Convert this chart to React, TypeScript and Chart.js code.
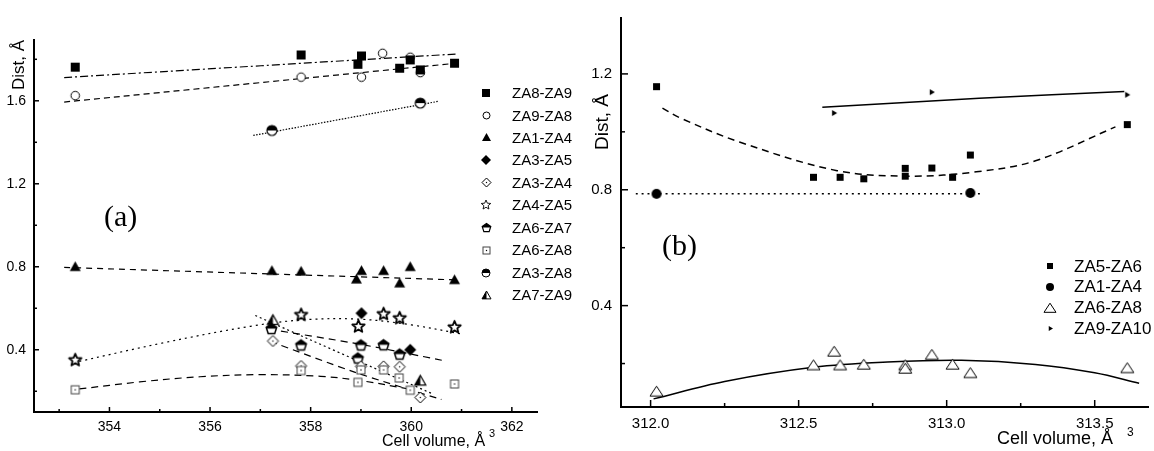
import React, { useEffect, useRef } from 'react';
import { Chart, registerables } from 'chart.js';
Chart.register(...registerables);

// ---------------- Panel (a) data ----------------
const aXTicks = [354, 356, 358, 360, 362];
const aXTickLabels = ['354', '356', '358', '360', '362'];
const aXMinor = [353, 355, 357, 359, 361];
const aYTicks = [0.4, 0.8, 1.2, 1.6];
const aYTickLabels = ['0.4', '0.8', '1.2', '1.6'];
const aYMinor = [0.2, 0.6, 1.0, 1.4, 1.8];

const aNames = ['ZA8-ZA9', 'ZA9-ZA8', 'ZA1-ZA4', 'ZA3-ZA5', 'ZA3-ZA4', 'ZA4-ZA5', 'ZA6-ZA7', 'ZA6-ZA8', 'ZA3-ZA8', 'ZA7-ZA9'];

const aZA8ZA9 = [[353.32, 1.762], [357.81, 1.821], [359.01, 1.816], [358.94, 1.776], [359.77, 1.757], [359.98, 1.797], [360.18, 1.749], [360.86, 1.781]];
const aZA9ZA8 = [[353.32, 1.625], [357.81, 1.714], [359.01, 1.714], [359.43, 1.829], [359.98, 1.81], [360.18, 1.736]];
const aZA1ZA4 = [[353.32, 0.8], [357.23, 0.781], [357.81, 0.778], [359.01, 0.781], [358.91, 0.74], [359.45, 0.781], [359.98, 0.8], [359.77, 0.721], [360.86, 0.737]];
const aZA3ZA5 = [[359.01, 0.576], [359.98, 0.4]];
const aZA3ZA4 = [[357.25, 0.442], [357.81, 0.322], [359.0, 0.32], [359.45, 0.32], [359.77, 0.318], [360.18, 0.17]];
const aZA4ZA5 = [[353.32, 0.35], [357.81, 0.568], [358.95, 0.512], [359.45, 0.572], [359.77, 0.552], [360.86, 0.508]];
const aZA6ZA7 = [[357.22, 0.502], [357.81, 0.423], [359.0, 0.423], [359.45, 0.424], [359.77, 0.379], [358.94, 0.36]];
const aZA6ZA8 = [[353.32, 0.207], [357.81, 0.3], [359.0, 0.303], [358.94, 0.243], [359.45, 0.303], [359.76, 0.264], [359.98, 0.205], [360.86, 0.235]];
const aZA3ZA8 = [[357.23, 1.457], [360.18, 1.589]];
const aZA7ZA9 = [[357.25, 0.542], [360.18, 0.25]];

const aFitZA8ZA9 = [[353.1, 1.712], [360.93, 1.826]];
const aFitZA9ZA8 = [[353.1, 1.594], [360.89, 1.781]];
const aFitZA3ZA8 = [[356.86, 1.433], [360.53, 1.597]];
const aFitZA1ZA4 = [[353.1, 0.797], [360.86, 0.737]];
const aFitZA4ZA5 = [[353.4, 0.344], [355.1, 0.435], [356.8, 0.513], [357.9, 0.545], [359.0, 0.547], [360.0, 0.52], [361.02, 0.475]];
const aFitZA6ZA8 = [[353.4, 0.211], [354.6, 0.245], [355.8, 0.27], [357.0, 0.28], [358.2, 0.272], [359.0, 0.251], [359.97, 0.21]];
const aFitZA6ZA7 = [[357.18, 0.499], [358.97, 0.427], [360.66, 0.347]];
const aFitZA3ZA4 = [[357.2, 0.44], [358.9, 0.29], [360.6, 0.16]];
const aFitZA7ZA9 = [[356.9, 0.565], [360.4, 0.19]];

// ---------------- Panel (b) data ----------------
const bXTicks = [312.0, 312.5, 313.0, 313.5];
const bXTickLabels = ['312.0', '312.5', '313.0', '313.5'];
const bXMinor = [312.25, 312.75, 313.25];
const bYTicks = [0.4, 0.8, 1.2];
const bYTickLabels = ['0.4', '0.8', '1.2'];
const bYMinor = [0.2, 0.6, 1.0];

const bNames = ['ZA5-ZA6', 'ZA1-ZA4', 'ZA6-ZA8', 'ZA9-ZA10'];

const bZA5ZA6 = [[312.02, 1.156], [312.55, 0.843], [312.64, 0.843], [312.72, 0.838], [312.86, 0.874], [312.86, 0.847], [312.95, 0.875], [313.02, 0.843], [313.08, 0.92], [313.61, 1.025]];
const bZA1ZA4 = [[312.02, 0.786], [313.08, 0.789]];
const bZA6ZA8 = [[312.02, 0.104], [312.55, 0.195], [312.62, 0.242], [312.64, 0.195], [312.72, 0.197], [312.86, 0.195], [312.86, 0.183], [312.95, 0.231], [313.02, 0.197], [313.08, 0.168], [313.61, 0.185]];
const bZA9ZA10 = [[312.62, 1.065], [312.95, 1.137], [313.61, 1.128]];

const bFitZA5ZA6 = [[312.04, 1.082], [312.1, 1.048], [312.3, 0.965], [312.63, 0.866], [312.88, 0.847], [313.1, 0.862], [313.3, 0.9], [313.57, 1.017]];
const bFitZA1ZA4 = [[311.95, 0.786], [313.12, 0.786]];
const bFitZA9ZA10 = [[312.58, 1.085], [313.11, 1.116], [313.6, 1.139]];
const bFitZA6ZA8 = [[312.01, 0.078], [312.25, 0.138], [312.55, 0.187], [312.8, 0.205], [313.05, 0.211], [313.3, 0.197], [313.5, 0.168], [313.65, 0.132]];

// ---------------- markers ----------------
type MK = 'sqF' | 'circO' | 'triF' | 'diaF' | 'diaO' | 'starO' | 'pentH' | 'sqO' | 'circH' | 'triH' | 'circF' | 'triO' | 'triR';

function makeMarker(kind: MK, s: number, lw = 1): HTMLCanvasElement {
  const size = Math.ceil(s + 6);
  const c = document.createElement('canvas');
  c.width = size;
  c.height = size;
  const ctx = c.getContext('2d') as CanvasRenderingContext2D;
  ctx.translate(size / 2, size / 2);
  const r = s / 2;
  ctx.lineWidth = lw;
  ctx.strokeStyle = '#000';
  ctx.fillStyle = '#000';
  const poly = (pts: number[][]) => {
    ctx.beginPath();
    pts.forEach((p, i) => (i ? ctx.lineTo(p[0], p[1]) : ctx.moveTo(p[0], p[1])));
    ctx.closePath();
  };
  const dot = () => {
    ctx.fillStyle = '#000';
    ctx.fillRect(-0.6, -0.6, 1.2, 1.2);
  };
  switch (kind) {
    case 'sqF':
      ctx.fillRect(-r, -r, s, s);
      break;
    case 'circO':
      ctx.beginPath(); ctx.arc(0, 0, r, 0, Math.PI * 2);
      ctx.fillStyle = '#fff'; ctx.fill(); ctx.stroke();
      break;
    case 'circF':
      ctx.beginPath(); ctx.arc(0, 0, r, 0, Math.PI * 2); ctx.fill();
      break;
    case 'triF':
      poly([[0, -r], [r, r * 0.75], [-r, r * 0.75]]); ctx.fill();
      break;
    case 'triO':
      poly([[0, -r * 0.8], [r, r * 0.72], [-r, r * 0.72]]);
      ctx.fillStyle = '#fff'; ctx.fill(); ctx.stroke();
      break;
    case 'triR':
      poly([[r, 0], [-r * 0.7, -r], [-r * 0.7, r]]); ctx.fill();
      break;
    case 'diaF':
      poly([[0, -r], [r, 0], [0, r], [-r, 0]]); ctx.fill();
      break;
    case 'diaO':
      poly([[0, -r], [r, 0], [0, r], [-r, 0]]);
      ctx.fillStyle = '#fff'; ctx.fill(); ctx.stroke(); dot();
      break;
    case 'sqO':
      ctx.strokeStyle = '#444';
      ctx.fillStyle = '#fff';
      ctx.fillRect(-r, -r, s, s);
      ctx.strokeRect(-r, -r, s, s); dot();
      break;
    case 'starO': {
      const pts: number[][] = [];
      for (let i = 0; i < 10; i++) {
        const rr = i % 2 === 0 ? r : r * 0.45;
        const a = -Math.PI / 2 + (i * Math.PI) / 5;
        pts.push([rr * Math.cos(a), rr * Math.sin(a)]);
      }
      poly(pts);
      ctx.fillStyle = '#fff'; ctx.fill(); ctx.lineJoin = 'round'; ctx.stroke();
      break;
    }
    case 'pentH': {
      const pts: number[][] = [];
      for (let i = 0; i < 5; i++) {
        const a = -Math.PI / 2 + (i * 2 * Math.PI) / 5;
        pts.push([r * Math.cos(a), r * Math.sin(a) + r * 0.1]);
      }
      poly(pts); ctx.fillStyle = '#fff'; ctx.fill();
      ctx.save(); ctx.beginPath(); ctx.rect(-r - 2, -r - 2, 2 * r + 4, r + 2); ctx.clip();
      poly(pts); ctx.fillStyle = '#000'; ctx.fill(); ctx.restore();
      poly(pts); ctx.stroke();
      break;
    }
    case 'circH':
      ctx.beginPath(); ctx.arc(0, 0, r, 0, Math.PI * 2); ctx.fillStyle = '#fff'; ctx.fill();
      ctx.beginPath(); ctx.arc(0, 0, r, Math.PI, Math.PI * 2); ctx.closePath(); ctx.fillStyle = '#000'; ctx.fill();
      ctx.beginPath(); ctx.arc(0, 0, r, 0, Math.PI * 2); ctx.stroke();
      break;
    case 'triH': {
      const pts = [[0, -r], [r, r * 0.75], [-r, r * 0.75]];
      poly(pts); ctx.fillStyle = '#fff'; ctx.fill();
      ctx.save(); ctx.beginPath(); ctx.rect(-r - 2, -r - 2, r + 2, 2 * r + 4); ctx.clip();
      poly(pts); ctx.fillStyle = '#000'; ctx.fill(); ctx.restore();
      poly(pts); ctx.stroke();
      break;
    }
  }
  return c;
}

const toPts = (arr: number[][]) => arr.map(([x, y]) => ({ x, y }));

const FONT = '"Liberation Sans", Arial, sans-serif';
const SERIF = '"Liberation Serif", "Times New Roman", serif';

function scatterDs(data: number[][], marker: HTMLCanvasElement) {
  return { data: toPts(data), pointStyle: marker, pointRadius: 5, showLine: false, order: 0 };
}
function lineDs(data: number[][], dash: number[], width = 1.2) {
  return {
    data: toPts(data), showLine: true, pointRadius: 0, borderColor: '#000', borderWidth: width,
    borderDash: dash, tension: data.length > 3 ? 0.35 : 0.3, fill: false, order: 1,
  };
}

type PanelSpec = {
  xMajor: number[]; xMinor: number[]; yMajor: number[]; yMinor: number[];
  major: number; minor: number;
  texts: (ctx: CanvasRenderingContext2D) => void;
  legend: { markers: HTMLCanvasElement[]; names: string[]; mx: number; tx: number; y0: number; step: number; font: number };
};

function decoPlugin(spec: PanelSpec) {
  return {
    id: 'deco',
    afterDraw(chart: any) {
      const { ctx, chartArea } = chart;
      const xs = chart.scales.x;
      const ys = chart.scales.y;
      ctx.save();
      ctx.strokeStyle = '#000';
      ctx.lineWidth = 1.5;
      const seg = (x1: number, y1: number, x2: number, y2: number) => {
        ctx.beginPath(); ctx.moveTo(x1, y1); ctx.lineTo(x2, y2); ctx.stroke();
      };
      spec.xMajor.forEach((v) => { const p = xs.getPixelForValue(v); seg(p, chartArea.bottom, p, chartArea.bottom - spec.major); });
      spec.xMinor.forEach((v) => { const p = xs.getPixelForValue(v); seg(p, chartArea.bottom, p, chartArea.bottom - spec.minor); });
      spec.yMajor.forEach((v) => { const p = ys.getPixelForValue(v); seg(chartArea.left, p, chartArea.left + spec.major, p); });
      spec.yMinor.forEach((v) => { const p = ys.getPixelForValue(v); seg(chartArea.left, p, chartArea.left + spec.minor, p); });
      ctx.fillStyle = '#000';
      spec.texts(ctx);
      const L = spec.legend;
      ctx.font = `${L.font}px ${FONT}`;
      ctx.textBaseline = 'middle';
      ctx.textAlign = 'left';
      L.names.forEach((n, i) => {
        const y = L.y0 + i * L.step;
        const m = L.markers[i];
        ctx.drawImage(m, Math.round(L.mx - m.width / 2), Math.round(y - m.height / 2));
        ctx.fillText(n, L.tx, y + 1);
      });
      ctx.restore();
    },
  };
}

function axisOpts(min: number, max: number, ticks: number[], labels: string[], size: number, pad: number, fit: (s: any) => void) {
  return {
    type: 'linear', min, max,
    grid: { display: false, drawTicks: false },
    border: { display: true, color: '#000', width: 2 },
    ticks: {
      padding: pad, color: '#000', autoSkip: false, maxRotation: 0,
      font: { family: FONT, size },
      callback: (_v: any, i: number) => labels[i],
    },
    afterBuildTicks: (s: any) => { s.ticks = ticks.map((v) => ({ value: v })); },
    afterFit: fit,
  };
}

function PanelA() {
  const ref = useRef<HTMLCanvasElement>(null);
  useEffect(() => {
    const mk = {
      sqF: makeMarker('sqF', 9), circO: makeMarker('circO', 8.5), triF: makeMarker('triF', 11), diaF: makeMarker('diaF', 12),
      diaO: makeMarker('diaO', 11), starO: makeMarker('starO', 13, 1.8), pentH: makeMarker('pentH', 11, 1.5), sqO: makeMarker('sqO', 8),
      circH: makeMarker('circH', 10, 1.2), triH: makeMarker('triH', 11, 1.2),
    };
    const lg = [makeMarker('sqF', 8), makeMarker('circO', 7), makeMarker('triF', 9), makeMarker('diaF', 10), makeMarker('diaO', 9),
      makeMarker('starO', 10, 0.9), makeMarker('pentH', 9, 1.2), makeMarker('sqO', 7), makeMarker('circH', 8, 1), makeMarker('triH', 9, 1)];
    const spec: PanelSpec = {
      xMajor: aXTicks, xMinor: aXMinor, yMajor: aYTicks, yMinor: aYMinor, major: 5, minor: 3,
      texts: (ctx) => {
        ctx.textBaseline = 'alphabetic'; ctx.textAlign = 'left';
        ctx.font = `30px ${SERIF}`; ctx.fillText('(a)', 104, 226);
        ctx.font = `16px ${FONT}`; ctx.fillText('Cell volume, Å', 382, 446);
        ctx.font = `11px ${FONT}`; ctx.fillText('3', 489, 437);
        ctx.save(); ctx.translate(24, 90); ctx.rotate(-Math.PI / 2);
        ctx.font = `17px ${FONT}`; ctx.fillText('Dist, Å', 0, 0); ctx.restore();
      },
      legend: { markers: lg, names: aNames, mx: 486, tx: 512, y0: 93, step: 22.45, font: 15 },
    };
    const chart = new Chart(ref.current as HTMLCanvasElement, {
      type: 'scatter',
      data: {
        datasets: [
          lineDs(aFitZA8ZA9, [8, 3, 2, 3]), lineDs(aFitZA9ZA8, [6, 4]), lineDs(aFitZA3ZA8, [1.5, 1.5]),
          lineDs(aFitZA1ZA4, [6, 5]), lineDs(aFitZA4ZA5, [2, 4]), lineDs(aFitZA6ZA8, [7, 5]),
          lineDs(aFitZA6ZA7, [7, 5]), lineDs(aFitZA3ZA4, [7, 5]), lineDs(aFitZA7ZA9, [2, 3]),
          scatterDs(aZA8ZA9, mk.sqF), scatterDs(aZA9ZA8, mk.circO), scatterDs(aZA1ZA4, mk.triF),
          scatterDs(aZA6ZA8, mk.sqO), scatterDs(aZA3ZA4, mk.diaO), scatterDs(aZA3ZA5, mk.diaF),
          scatterDs(aZA4ZA5, mk.starO), scatterDs(aZA6ZA7, mk.pentH), scatterDs(aZA3ZA8, mk.circH), scatterDs(aZA7ZA9, mk.triH),
        ] as any,
      },
      options: {
        responsive: false, animation: false, devicePixelRatio: 1,
        layout: { padding: { left: 0, top: 40, right: 38, bottom: 0 } },
        plugins: { legend: { display: false }, tooltip: { enabled: false } },
        scales: {
          x: axisOpts(352.5, 362.5, aXTicks, aXTickLabels, 14, 7, (s: any) => { s.height = 39; }),
          y: axisOpts(0.1, 1.893, aYTicks, aYTickLabels, 14, 8, (s: any) => { s.width = 34; }),
        } as any,
      },
      plugins: [decoPlugin(spec)],
    });
    return () => chart.destroy();
  }, []);
  return <canvas ref={ref} width={575} height={451} style={{ position: 'absolute', left: 0, top: 0 }} />;
}

function PanelB() {
  const ref = useRef<HTMLCanvasElement>(null);
  useEffect(() => {
    const mk = { sqF: makeMarker('sqF', 7), circF: makeMarker('circF', 10), triO: makeMarker('triO', 13, 1), triR: makeMarker('triR', 6) };
    const lg = [makeMarker('sqF', 6), makeMarker('circF', 8), makeMarker('triO', 12, 1), makeMarker('triR', 5)];
    const spec: PanelSpec = {
      xMajor: bXTicks, xMinor: bXMinor, yMajor: bYTicks, yMinor: bYMinor, major: 7, minor: 4,
      texts: (ctx) => {
        ctx.textBaseline = 'alphabetic'; ctx.textAlign = 'left';
        ctx.font = `30px ${SERIF}`; ctx.fillText('(b)', 87, 255);
        ctx.font = `18px ${FONT}`; ctx.fillText('Cell volume, Å', 422, 444);
        ctx.font = `12px ${FONT}`; ctx.fillText('3', 552, 436);
        ctx.save(); ctx.translate(33, 150); ctx.rotate(-Math.PI / 2);
        ctx.font = `19px ${FONT}`; ctx.fillText('Dist, Å', 0, 0); ctx.restore();
      },
      legend: { markers: lg, names: bNames, mx: 475, tx: 499, y0: 266, step: 20.8, font: 17 },
    };
    const chart = new Chart(ref.current as HTMLCanvasElement, {
      type: 'scatter',
      data: {
        datasets: [
          lineDs(bFitZA5ZA6, [7, 5], 1.5), lineDs(bFitZA1ZA4, [2, 4], 1.5), lineDs(bFitZA9ZA10, [], 1.5), lineDs(bFitZA6ZA8, [], 1.5),
          scatterDs(bZA5ZA6, mk.sqF), scatterDs(bZA1ZA4, mk.circF), scatterDs(bZA6ZA8, mk.triO), scatterDs(bZA9ZA10, mk.triR),
        ] as any,
      },
      options: {
        responsive: false, animation: false, devicePixelRatio: 1,
        layout: { padding: { left: 0, top: 14, right: 0, bottom: 0 } },
        plugins: { legend: { display: false }, tooltip: { enabled: false } },
        scales: {
          x: axisOpts(311.9, 313.68, bXTicks, bXTickLabels, 15, 8, (s: any) => { s.height = 44; }),
          y: axisOpts(0.05, 1.393, bYTicks, bYTickLabels, 15, 9, (s: any) => { s.width = 46; }),
        } as any,
      },
      plugins: [decoPlugin(spec)],
    });
    return () => chart.destroy();
  }, []);
  return <canvas ref={ref} width={579} height={451} style={{ position: 'absolute', left: 575, top: 0 }} />;
}

export default function App() {
  return (
    <div style={{ position: 'absolute', left: 0, top: 0, width: 1154, height: 451, background: '#fff', overflow: 'hidden' }}>
      <PanelA />
      <PanelB />
    </div>
  );
}
